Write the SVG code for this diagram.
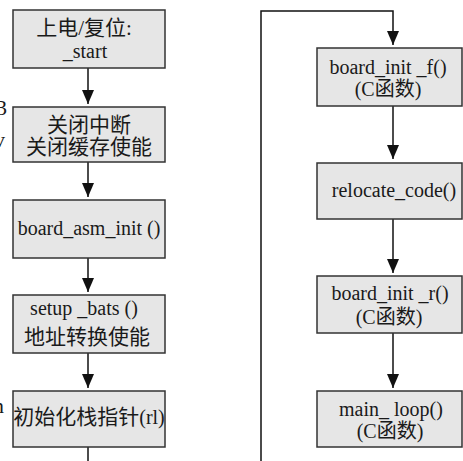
<svg xmlns="http://www.w3.org/2000/svg" width="463" height="461" viewBox="0 0 463 461">
<defs>
<style>
.box{fill:#e6e6e6;stroke:#333;stroke-width:1.5}
.t{font-family:"Liberation Serif","Noto Sans CJK SC",serif;font-size:20px;fill:#1a1a1a;text-anchor:middle}
.c{font-size:21px}
.ln{fill:none;stroke:#111;stroke-width:1.5}
.stray{font-family:"Liberation Serif",serif;font-size:22px;fill:#1a1a1a}
</style>
<marker id="ah" viewBox="0 0 14 12" refX="14" refY="6" markerWidth="14" markerHeight="12" markerUnits="userSpaceOnUse" orient="auto">
<path d="M0,0 L14,6 L0,12 Z" fill="#111"/>
</marker>
</defs>
<rect width="463" height="461" fill="#fff"/>
<text class="stray" x="-4" y="115">3</text>
<text class="stray" x="-6" y="147">v</text>
<text class="stray" x="-7" y="413">n</text>
<g id="connectors">
<path class="ln" d="M88,68 V104" marker-end="url(#ah)"/>
<path class="ln" d="M88,162 V197" marker-end="url(#ah)"/>
<path class="ln" d="M88,258 V292" marker-end="url(#ah)"/>
<path class="ln" d="M88,353 V388" marker-end="url(#ah)"/>
<path class="ln" d="M88,447 V461"/>
<path class="ln" d="M261,461 V11 H393 V45" marker-end="url(#ah)"/>
<path class="ln" d="M393,106 V159" marker-end="url(#ah)"/>
<path class="ln" d="M393,219 V273" marker-end="url(#ah)"/>
<path class="ln" d="M393,333 V388" marker-end="url(#ah)"/>
</g>
<g id="n1">
<rect class="box" x="13" y="10" width="152" height="58"/>
<text class="t c" x="84" y="35">上电/复位:</text>
<text class="t" x="85" y="58">_start</text>
</g>
<g id="n2">
<rect class="box" x="13" y="107" width="152" height="55"/>
<text class="t c" x="89" y="132">关闭中断</text>
<text class="t c" x="89" y="154">关闭缓存使能</text>
</g>
<g id="n3">
<rect class="box" x="13" y="200" width="152" height="58"/>
<text class="t" x="89" y="235">board_asm_init ()</text>
</g>
<g id="n4">
<rect class="box" x="13" y="295" width="152" height="58"/>
<text class="t" x="84" y="315">setup _bats ()</text>
<text class="t c" x="87" y="344">地址转换使能</text>
</g>
<g id="n5">
<rect class="box" x="13" y="391" width="152" height="56"/>
<text class="t" x="89" y="424"><tspan class="c">初始化栈指针</tspan>(rl)</text>
</g>
<g id="n6">
<rect class="box" x="317" y="48" width="145" height="58"/>
<text class="t" x="388" y="74">board_init _f()</text>
<text class="t" x="388" y="96">(C函数)</text>
</g>
<g id="n7">
<rect class="box" x="317" y="163" width="145" height="56"/>
<text class="t" x="394" y="197">relocate_code()</text>
</g>
<g id="n8">
<rect class="box" x="317" y="276" width="145" height="57"/>
<text class="t" x="390" y="300">board_init _r()</text>
<text class="t" x="389" y="324">(C函数)</text>
</g>
<g id="n9">
<rect class="box" x="317" y="391" width="145" height="56"/>
<text class="t" x="391" y="416">main_ loop()</text>
<text class="t" x="390" y="438">(C函数)</text>
</g>
</svg>
